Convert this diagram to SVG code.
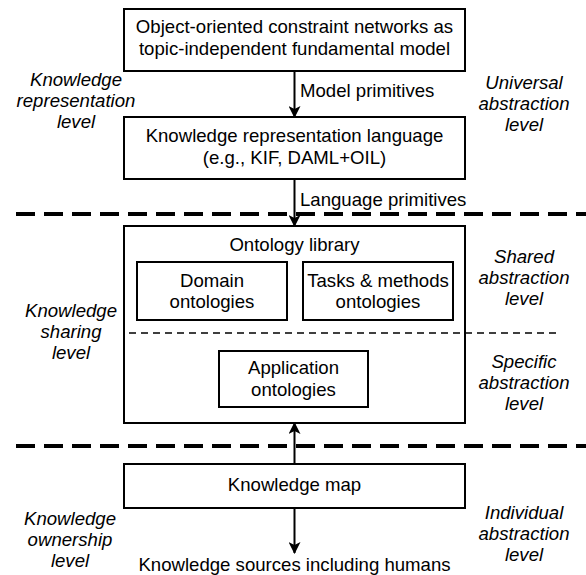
<svg xmlns="http://www.w3.org/2000/svg" width="586" height="575" viewBox="0 0 586 575">
<style>
  .box { fill: #ffffff; stroke: #000000; stroke-width: 2; }
  .t { font-family: "Liberation Sans", Arial, sans-serif; font-size: 18.6px; fill: #000000; text-anchor: middle; }
  .lbl { font-family: "Liberation Sans", Arial, sans-serif; font-size: 18.6px; fill: #000000; text-anchor: start; }
  .lv { font-family: "Liberation Sans", Arial, sans-serif; font-size: 18.6px; font-style: italic; fill: #000000; text-anchor: middle; }
  .conn { stroke: #000000; stroke-width: 2; fill: none; marker-end: url(#arrow); }
  .thick { stroke: #000000; stroke-width: 4; stroke-dasharray: 19 9; fill: none; }
  .thin { stroke: #000000; stroke-width: 1.5; stroke-dasharray: 7 5; fill: none; }
</style>
<defs>
  <marker id="arrow" markerWidth="12" markerHeight="12" viewBox="0 0 12 12" refX="11" refY="6" orient="auto" markerUnits="userSpaceOnUse">
    <path d="M0,0 L12,6 L0,12 L3,6 Z" fill="#000000"/>
  </marker>
</defs>

<g id="separators">
  <line class="thick" x1="16" y1="214" x2="586" y2="214"/>
  <line class="thick" x1="16" y1="446" x2="586" y2="446"/>
</g>

<g id="node-fundamental-model">
  <rect class="box" x="124" y="9" width="341" height="62"/>
  <text class="t" x="294.5" y="33">Object-oriented constraint networks as</text>
  <text class="t" x="294.5" y="55">topic-independent fundamental model</text>
</g>

<g id="node-kr-language">
  <rect class="box" x="124" y="117" width="341" height="62"/>
  <text class="t" x="294.5" y="142">Knowledge representation language</text>
  <text class="t" x="294.5" y="164">(e.g., KIF, DAML+OIL)</text>
</g>

<g id="node-ontology-library">
  <rect class="box" x="124" y="226" width="341" height="197"/>
  <text class="t" x="294.5" y="251">Ontology library</text>
  <line class="thin" x1="129" y1="333" x2="557" y2="333"/>
</g>

<g id="node-domain">
  <rect class="box" x="137" y="262" width="150" height="58"/>
  <text class="t" x="212" y="287">Domain</text>
  <text class="t" x="212" y="308">ontologies</text>
</g>

<g id="node-tasks">
  <rect class="box" x="303" y="262" width="150" height="58"/>
  <text class="t" x="378" y="287">Tasks &amp; methods</text>
  <text class="t" x="378" y="308">ontologies</text>
</g>

<g id="node-application">
  <rect class="box" x="219" y="351" width="149" height="56"/>
  <text class="t" x="293.5" y="374">Application</text>
  <text class="t" x="293.5" y="396">ontologies</text>
</g>

<g id="node-knowledge-map">
  <rect class="box" x="124" y="464" width="341" height="44"/>
  <text class="t" x="294.5" y="491">Knowledge map</text>
</g>

<g id="node-knowledge-sources">
  <text class="t" x="294.5" y="571">Knowledge sources including humans</text>
</g>

<g id="connectors">
  <line class="conn" x1="294.5" y1="71" x2="294.5" y2="117"/>
  <text class="lbl" x="300" y="97">Model primitives</text>
  <line class="conn" x1="294.5" y1="179" x2="294.5" y2="226"/>
  <text class="lbl" x="300" y="206">Language primitives</text>
  <line class="conn" x1="294.5" y1="464" x2="294.5" y2="423"/>
  <line class="conn" x1="294.5" y1="508" x2="294.5" y2="553"/>
</g>

<g id="level-labels">
  <text class="lv" x="76" y="86">Knowledge</text>
  <text class="lv" x="76" y="107">representation</text>
  <text class="lv" x="76" y="128">level</text>
  <text class="lv" x="71" y="317">Knowledge</text>
  <text class="lv" x="71" y="338">sharing</text>
  <text class="lv" x="71" y="359">level</text>
  <text class="lv" x="70" y="525">Knowledge</text>
  <text class="lv" x="70" y="546">ownership</text>
  <text class="lv" x="70" y="567">level</text>
  <text class="lv" x="524" y="89">Universal</text>
  <text class="lv" x="524" y="110">abstraction</text>
  <text class="lv" x="524" y="131">level</text>
  <text class="lv" x="524" y="263">Shared</text>
  <text class="lv" x="524" y="284">abstraction</text>
  <text class="lv" x="524" y="305">level</text>
  <text class="lv" x="524" y="368">Specific</text>
  <text class="lv" x="524" y="389">abstraction</text>
  <text class="lv" x="524" y="410">level</text>
  <text class="lv" x="524" y="519">Individual</text>
  <text class="lv" x="524" y="540">abstraction</text>
  <text class="lv" x="524" y="561">level</text>
</g>
</svg>
